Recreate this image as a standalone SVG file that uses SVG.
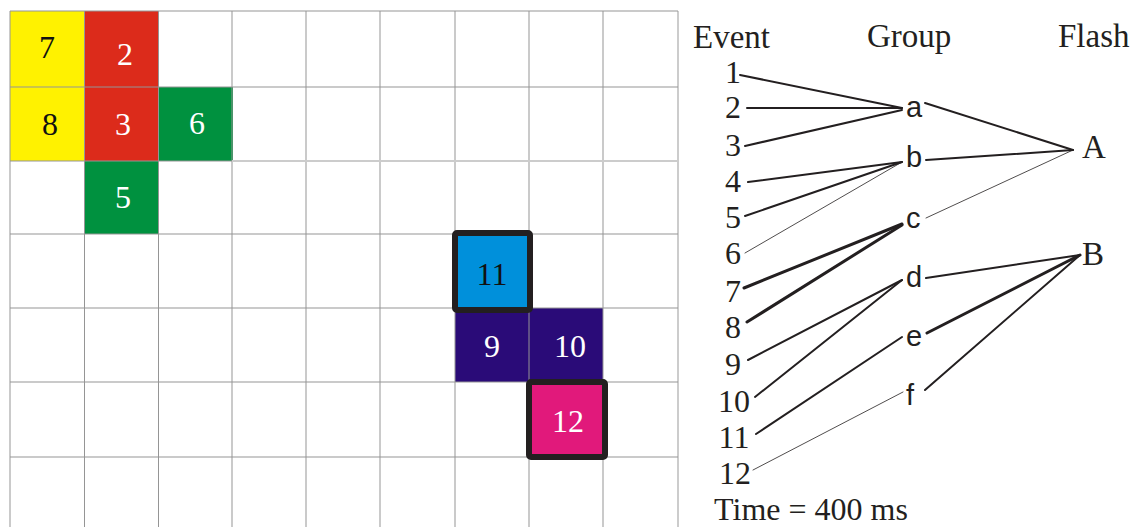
<svg xmlns="http://www.w3.org/2000/svg" width="1136" height="527" viewBox="0 0 1136 527">
<style>
.grid line{stroke:#959595;stroke-width:1}
.num{font-family:"Liberation Serif","Times New Roman",serif;font-size:32px;text-anchor:middle}
.w{fill:#ffffff}
.k{fill:#111111}
.hdr{font-family:"Liberation Serif","Times New Roman",serif;font-size:33px;fill:#231f20}
.ev{font-family:"Liberation Serif","Times New Roman",serif;font-size:32px;fill:#231f20;text-anchor:middle}
.grp{font-family:"Liberation Sans",Arial,sans-serif;font-size:29px;fill:#231f20}
.fl{font-family:"Liberation Serif","Times New Roman",serif;font-size:33px;fill:#231f20}
.c line{stroke:#231f20;stroke-width:2;stroke-linecap:round}
.c .thin{stroke-width:0.8}
.c .thick{stroke-width:3}
.frame{fill:none;stroke:#231f20;stroke-width:6}
</style>
<rect width="1136" height="527" fill="#ffffff"/>
<g id="cells">
<rect x="10" y="11" width="74.5" height="76" fill="#fff200"/>
<rect x="10" y="87" width="74.5" height="74" fill="#fff200"/>
<rect x="84.5" y="11" width="74" height="76" fill="#dc2b1b"/>
<rect x="84.5" y="87" width="74" height="74" fill="#dc2b1b"/>
<rect x="158.5" y="87" width="74.5" height="74" fill="#00913f"/>
<rect x="84.5" y="161" width="74" height="73" fill="#00913f"/>
<rect x="455" y="234" width="74" height="74" fill="#0090db"/>
<rect x="455" y="308" width="148" height="74" fill="#2a0b78"/>
<rect x="529" y="382" width="74" height="75" fill="#e1197b"/>
</g>
<g id="grid" class="grid">
<line x1="10" y1="11" x2="10" y2="527"/>
<line x1="84.5" y1="11" x2="84.5" y2="527"/>
<line x1="158.5" y1="11" x2="158.5" y2="527"/>
<line x1="232" y1="11" x2="232" y2="527"/>
<line x1="306" y1="11" x2="306" y2="527"/>
<line x1="380" y1="11" x2="380" y2="527"/>
<line x1="455" y1="11" x2="455" y2="527"/>
<line x1="529" y1="11" x2="529" y2="527"/>
<line x1="603" y1="11" x2="603" y2="527"/>
<line x1="678" y1="11" x2="678" y2="527" style="stroke:#cccccc;stroke-width:2"/>
<line x1="10" y1="11" x2="678" y2="11"/>
<line x1="10" y1="87" x2="678" y2="87"/>
<line x1="10" y1="161" x2="232" y2="161"/>
<line x1="232" y1="161" x2="678" y2="161" style="stroke:#cccccc;stroke-width:2"/>
<line x1="10" y1="234" x2="678" y2="234"/>
<line x1="10" y1="308" x2="678" y2="308"/>
<line x1="10" y1="382" x2="678" y2="382"/>
<line x1="10" y1="457" x2="678" y2="457"/>
</g>
<g id="frames">
<rect class="frame" x="455" y="233" width="75" height="77" rx="2"/>
<rect class="frame" x="529" y="382" width="76" height="75" rx="2"/>
</g>
<g id="cell-labels">
<text class="num k" x="47" y="58">7</text>
<text class="num w" x="125" y="65">2</text>
<text class="num k" x="50" y="135">8</text>
<text class="num w" x="123" y="135">3</text>
<text class="num w" x="197" y="134">6</text>
<text class="num w" x="123" y="208">5</text>
<text class="num k" x="492" y="285">11</text>
<text class="num w" x="492" y="357">9</text>
<text class="num w" x="570" y="357">10</text>
<text class="num w" x="568" y="432">12</text>
</g>
<g id="headers">
<text class="hdr" x="693" y="48">Event</text>
<text class="hdr" x="867" y="47">Group</text>
<text class="hdr" x="1058" y="47">Flash</text>
</g>
<g id="connectors" class="c">
<line x1="740" y1="75" x2="902" y2="108"/>
<line x1="747" y1="108" x2="902" y2="108"/>
<line x1="745" y1="146" x2="902" y2="110"/>
<line x1="748" y1="182" x2="902" y2="162"/>
<line x1="745" y1="216" x2="902" y2="162"/>
<line class="thin" x1="745" y1="253" x2="902" y2="162"/>
<line class="thick" x1="744" y1="288" x2="902" y2="224"/>
<line class="thick" x1="747" y1="322" x2="902" y2="225"/>
<line x1="748" y1="360" x2="902" y2="280"/>
<line x1="755" y1="397" x2="902" y2="280"/>
<line x1="756" y1="434" x2="902" y2="337"/>
<line class="thin" x1="753" y1="470" x2="903" y2="392"/>
<line x1="925" y1="103" x2="1073" y2="150"/>
<line x1="926" y1="160" x2="1073" y2="150"/>
<line class="thin" x1="926" y1="218" x2="1073" y2="150"/>
<line x1="926" y1="278" x2="1080" y2="255"/>
<line class="thick" x1="927" y1="333" x2="1080" y2="255"/>
<line x1="925" y1="390" x2="1080" y2="255"/>
</g>
<g id="events">
<text class="ev" x="733" y="83">1</text>
<text class="ev" x="733" y="118">2</text>
<text class="ev" x="733" y="156">3</text>
<text class="ev" x="733" y="192">4</text>
<text class="ev" x="733" y="228">5</text>
<text class="ev" x="733" y="264">6</text>
<text class="ev" x="733" y="302">7</text>
<text class="ev" x="733" y="338">8</text>
<text class="ev" x="733" y="375">9</text>
<text class="ev" x="734" y="412">10</text>
<text class="ev" x="734" y="448">11</text>
<text class="ev" x="735" y="484">12</text>
</g>
<g id="groups">
<text class="grp" x="906" y="117">a</text>
<text class="grp" x="906" y="167">b</text>
<text class="grp" x="906" y="228">c</text>
<text class="grp" x="906" y="287">d</text>
<text class="grp" x="906" y="346">e</text>
<text class="grp" x="906" y="405">f</text>
</g>
<g id="flashes">
<text class="fl" x="1082" y="158">A</text>
<text class="fl" x="1082" y="265">B</text>
</g>
<text id="time" class="ev" x="811" y="520">Time = 400 ms</text>
</svg>
